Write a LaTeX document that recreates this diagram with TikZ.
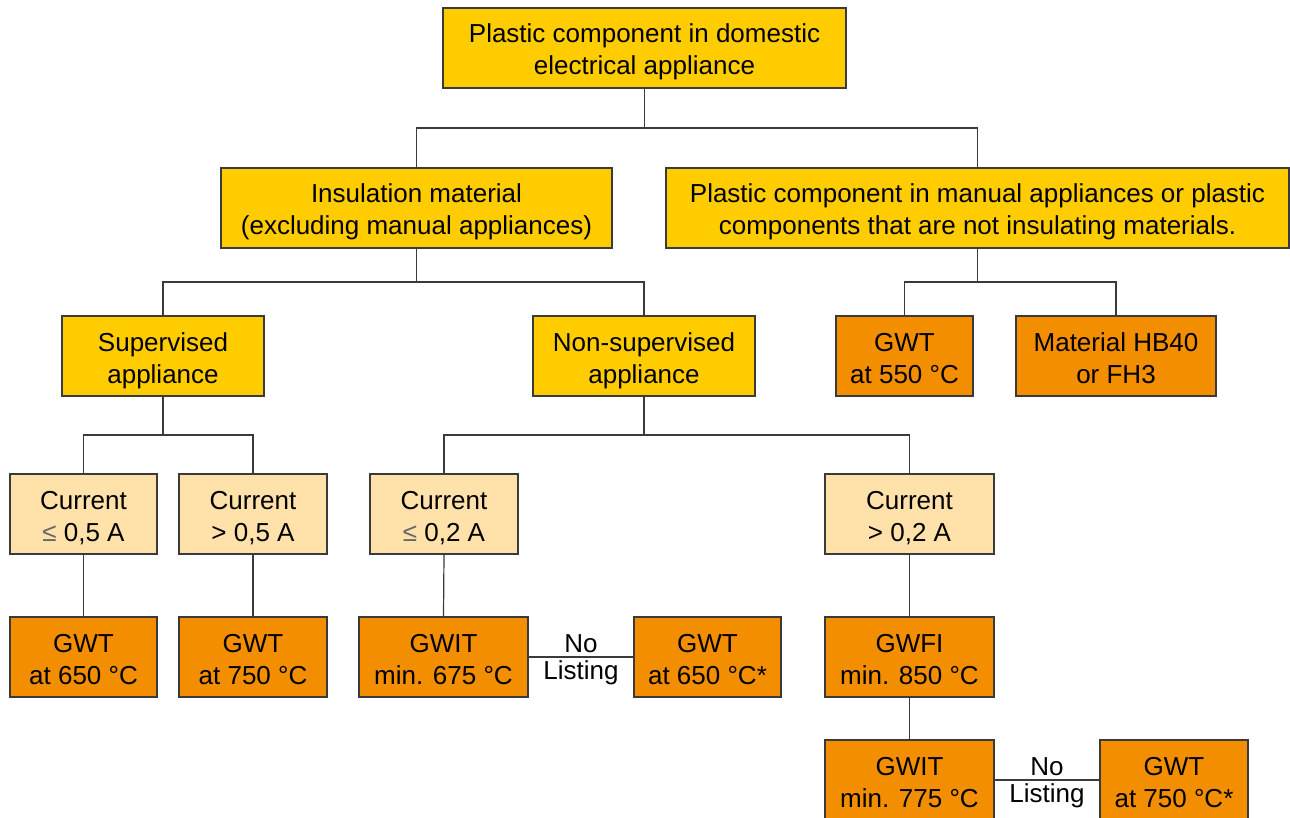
\documentclass[tikz,border=0pt]{standalone}
\usepackage{fontspec}
\setmainfont{Liberation Sans}
\definecolor{cyel}{HTML}{FFCC00}
\definecolor{clight}{HTML}{FFE1A9}
\definecolor{corange}{HTML}{F28E00}
\definecolor{cline}{HTML}{3A3A3A}
\begin{document}
\begin{tikzpicture}[x=1pt,y=-1pt,
  box/.style={draw=cline, line width=1.3pt, align=center, inner sep=0pt,
    minimum height=80pt, text height=63pt, text depth=9pt,
    font=\fontsize{26}{32}\selectfont, text=black},
  ybox/.style={box, fill=cyel},
  lbox/.style={box, fill=clight},
  obox/.style={box, fill=corange},
  conn/.style={draw=cline, line width=1.2pt},
  lbl/.style={font=\fontsize{26}{32}\selectfont, inner sep=3.5pt, text=black}]
\useasboundingbox (0,0) rectangle (1290,818);
\clip (0,0) rectangle (1290,818);
\fill[white] (0,0) rectangle (1290,818);

% level 0-1
\node[ybox, minimum width=403pt] (top) at (644.5,48) {Plastic component in domestic\\electrical appliance};
\node[ybox, minimum width=391pt] (ins) at (416.5,208) {Insulation material\\(excluding manual appliances)};
\node[ybox, minimum width=623pt] (plr) at (977.5,208) {Plastic component in manual appliances or plastic\\components that are not insulating materials.};

% level 2
\node[ybox, minimum width=202pt] (sup) at (163,356) {Supervised\\appliance};
\node[ybox, minimum width=222pt] (nsup) at (644,356) {Non-supervised\\appliance};
\node[obox, minimum width=137pt] (g550) at (904.5,356) {GWT\\at 550 °C};
\node[obox, minimum width=200pt] (hb40) at (1116,356) {Material HB40\\or FH3};

% level 3
\node[lbox, minimum width=147pt] (c05a) at (83.5,514) {Current\\{\color{black!60}≤} 0,5 A};
\node[lbox, minimum width=148pt] (c05b) at (253,514) {Current\\> 0,5 A};
\node[lbox, minimum width=148pt] (c02a) at (444,514) {Current\\{\color{black!60}≤} 0,2 A};
\node[lbox, minimum width=169pt] (c02b) at (909.5,514) {Current\\> 0,2 A};

% level 4
\node[obox, minimum width=147pt] (g650) at (83.5,657) {GWT\\at 650 °C};
\node[obox, minimum width=148pt] (g750) at (253,657) {GWT\\at 750 °C};
\node[obox, minimum width=169pt] (gwit675) at (443.5,657) {GWIT\\min. 675 °C};
\node[obox, minimum width=147pt] (g650s) at (707.5,657) {GWT\\at 650 °C*};
\node[obox, minimum width=169pt] (gwfi) at (909.5,657) {GWFI\\min. 850 °C};

% level 5
\node[obox, minimum width=169pt] (gwit775) at (909.5,780) {GWIT\\min. 775 °C};
\node[obox, minimum width=148pt] (g750s) at (1174,780) {GWT\\at 750 °C*};

% connector levels
\coordinate (m1) at (0,128);
\coordinate (m2) at (0,282);
\coordinate (m3) at (0,435);

\draw[conn] (top.south) -- (top.south |- m1);
\draw[conn] (ins.north) |- (plr.north |- m1) -- (plr.north);

\draw[conn] (ins.south) -- (ins.south |- m2);
\draw[conn] (sup.north) |- (nsup.north |- m2) -- (nsup.north);
\draw[conn] (plr.south) -- (plr.south |- m2);
\draw[conn] (g550.north) |- (hb40.north |- m2) -- (hb40.north);

\draw[conn] (sup.south) -- (sup.south |- m3);
\draw[conn] (c05a.north) |- (c05b.north |- m3) -- (c05b.north);
\draw[conn] (nsup.south) -- (nsup.south |- m3);
\draw[conn] (c02a.north) |- (c02b.north |- m3) -- (c02b.north);

\draw[conn] (c05a.south) -- (g650.north);
\draw[conn] (c05b.south) -- (g750.north);
\draw[conn] (c02a.south) -- (gwit675.north);
\draw[conn] (c02b.south) -- (gwfi.north);
\draw[conn] (gwfi.south) -- (gwit775.north);

\draw[conn] (gwit675.east) -- node[lbl, above] (no1) {No} node[lbl, below] (li1) {Listing} (g650s.west);
\draw[conn] (gwit775.east) -- node[lbl, above] (no2) {No} node[lbl, below] (li2) {Listing} (g750s.west);
\end{tikzpicture}
\end{document}
